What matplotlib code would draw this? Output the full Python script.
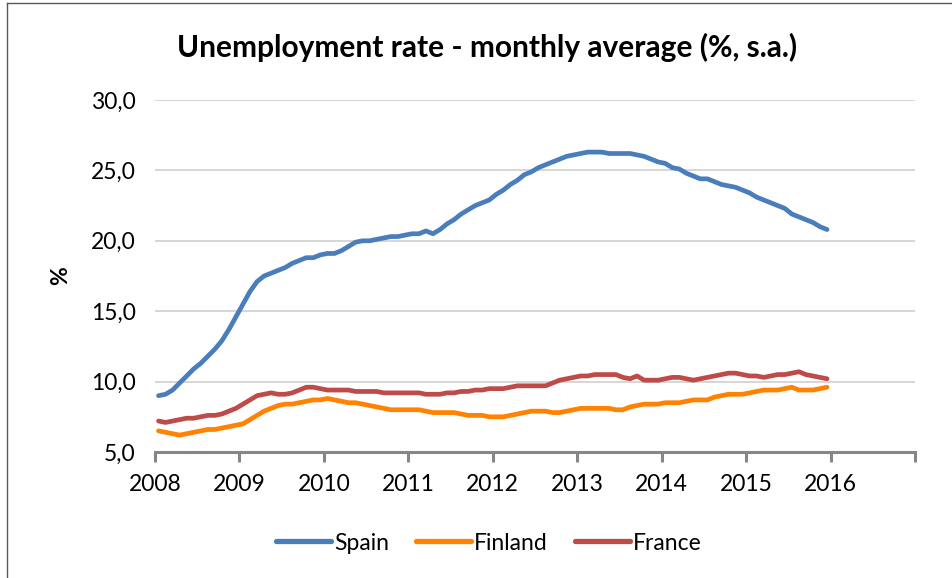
import matplotlib
matplotlib.use('Agg')
import matplotlib.pyplot as plt
from matplotlib.lines import Line2D
from matplotlib.ticker import FuncFormatter

# monthly data, Jan 2008 .. Dec 2015
spain = [9.0, 9.1, 9.4, 9.9, 10.4, 10.9, 11.3, 11.8, 12.3, 12.9, 13.7, 14.6,
         15.5, 16.4, 17.1, 17.5, 17.7, 17.9, 18.1, 18.4, 18.6, 18.8, 18.8, 19.0,
         19.1, 19.1, 19.3, 19.6, 19.9, 20.0, 20.0, 20.1, 20.2, 20.3, 20.3, 20.4,
         20.5, 20.5, 20.7, 20.5, 20.8, 21.2, 21.5, 21.9, 22.2, 22.5, 22.7, 22.9,
         23.3, 23.6, 24.0, 24.3, 24.7, 24.9, 25.2, 25.4, 25.6, 25.8, 26.0, 26.1,
         26.2, 26.3, 26.3, 26.3, 26.2, 26.2, 26.2, 26.2, 26.1, 26.0, 25.8, 25.6,
         25.5, 25.2, 25.1, 24.8, 24.6, 24.4, 24.4, 24.2, 24.0, 23.9, 23.8, 23.6,
         23.4, 23.1, 22.9, 22.7, 22.5, 22.3, 21.9, 21.7, 21.5, 21.3, 21.0, 20.8]
finland = [6.5, 6.4, 6.3, 6.2, 6.3, 6.4, 6.5, 6.6, 6.6, 6.7, 6.8, 6.9,
           7.0, 7.3, 7.6, 7.9, 8.1, 8.3, 8.4, 8.4, 8.5, 8.6, 8.7, 8.7,
           8.8, 8.7, 8.6, 8.5, 8.5, 8.4, 8.3, 8.2, 8.1, 8.0, 8.0, 8.0,
           8.0, 8.0, 7.9, 7.8, 7.8, 7.8, 7.8, 7.7, 7.6, 7.6, 7.6, 7.5,
           7.5, 7.5, 7.6, 7.7, 7.8, 7.9, 7.9, 7.9, 7.8, 7.8, 7.9, 8.0,
           8.1, 8.1, 8.1, 8.1, 8.1, 8.0, 8.0, 8.2, 8.3, 8.4, 8.4, 8.4,
           8.5, 8.5, 8.5, 8.6, 8.7, 8.7, 8.7, 8.9, 9.0, 9.1, 9.1, 9.1,
           9.2, 9.3, 9.4, 9.4, 9.4, 9.5, 9.6, 9.4, 9.4, 9.4, 9.5, 9.6]
france = [7.2, 7.1, 7.2, 7.3, 7.4, 7.4, 7.5, 7.6, 7.6, 7.7, 7.9, 8.1,
          8.4, 8.7, 9.0, 9.1, 9.2, 9.1, 9.1, 9.2, 9.4, 9.6, 9.6, 9.5,
          9.4, 9.4, 9.4, 9.4, 9.3, 9.3, 9.3, 9.3, 9.2, 9.2, 9.2, 9.2,
          9.2, 9.2, 9.1, 9.1, 9.1, 9.2, 9.2, 9.3, 9.3, 9.4, 9.4, 9.5,
          9.5, 9.5, 9.6, 9.7, 9.7, 9.7, 9.7, 9.7, 9.9, 10.1, 10.2, 10.3,
          10.4, 10.4, 10.5, 10.5, 10.5, 10.5, 10.3, 10.2, 10.4, 10.1, 10.1, 10.1,
          10.2, 10.3, 10.3, 10.2, 10.1, 10.2, 10.3, 10.4, 10.5, 10.6, 10.6, 10.5,
          10.4, 10.4, 10.3, 10.4, 10.5, 10.5, 10.6, 10.7, 10.5, 10.4, 10.3, 10.2]
years = [2008, 2009, 2010, 2011, 2012, 2013, 2014, 2015, 2016, 2017]
year_labels = ['2008', '2009', '2010', '2011', '2012', '2013', '2014', '2015', '2016', '']

plt.rcParams['font.family'] = ['Lato', 'DejaVu Sans']

x = [2008 + (i + 0.5) / 12 for i in range(len(spain))]

fig = plt.figure(figsize=(9.53, 5.78), dpi=100)
ax = fig.add_axes([155 / 953, 1 - 452 / 578, 760 / 953, 352 / 578])

ax.plot(x, spain, color='#4a7ebb', lw=3.4, solid_capstyle='round', label='Spain')
ax.plot(x, finland, color='#ff8200', lw=3.4, solid_capstyle='round', label='Finland')
ax.plot(x, france, color='#be4b48', lw=3.4, solid_capstyle='round', label='France')

ax.set_xlim(2008, 2017)
ax.set_ylim(5, 30)
ax.set_yticks([5, 10, 15, 20, 25, 30])
ax.yaxis.set_major_formatter(FuncFormatter(lambda v, p: f'{v:.1f}'.replace('.', ',')))
ax.set_xticks(years)
ax.set_xticklabels(year_labels)

ax.grid(axis='y', color='#d0d0d0', lw=1.2)
ax.set_axisbelow(True)
for s in ['top', 'right', 'left']:
    ax.spines[s].set_visible(False)
ax.spines['bottom'].set_color('#868686')
ax.spines['bottom'].set_linewidth(2.2)
ax.tick_params(axis='x', colors='#868686', length=7, width=2.2, pad=9, labelsize=16.5, labelcolor='black')
ax.tick_params(axis='y', length=0, pad=14, labelsize=16.5)

ax.set_ylabel('%', fontsize=16.5, fontweight='bold', labelpad=14)
fig.text(487 / 953, 1 - 47 / 578, 'Unemployment rate - monthly average (%, s.a.)',
         ha='center', va='center', fontsize=21.5, fontweight='bold')

handles = [Line2D([], [], color=c, lw=3.8, solid_capstyle='round') for c in ['#4a7ebb', '#ff8200', '#be4b48']]
fig.legend(handles, ['Spain', 'Finland', 'France'], loc='center', bbox_to_anchor=(489 / 953, 1 - 543 / 578),
           ncol=3, frameon=False, fontsize=16.5, handlelength=2.4, handletextpad=0.12, columnspacing=1.2)

# chart frame
fig.add_artist(Line2D([7 / 953, 7 / 953], [0, 1 - 3 / 578], transform=fig.transFigure, color='#595959', lw=1))
fig.add_artist(Line2D([7 / 953, 1], [1 - 3 / 578, 1 - 3 / 578], transform=fig.transFigure, color='#595959', lw=1))

fig.savefig('out.png', dpi=100)
